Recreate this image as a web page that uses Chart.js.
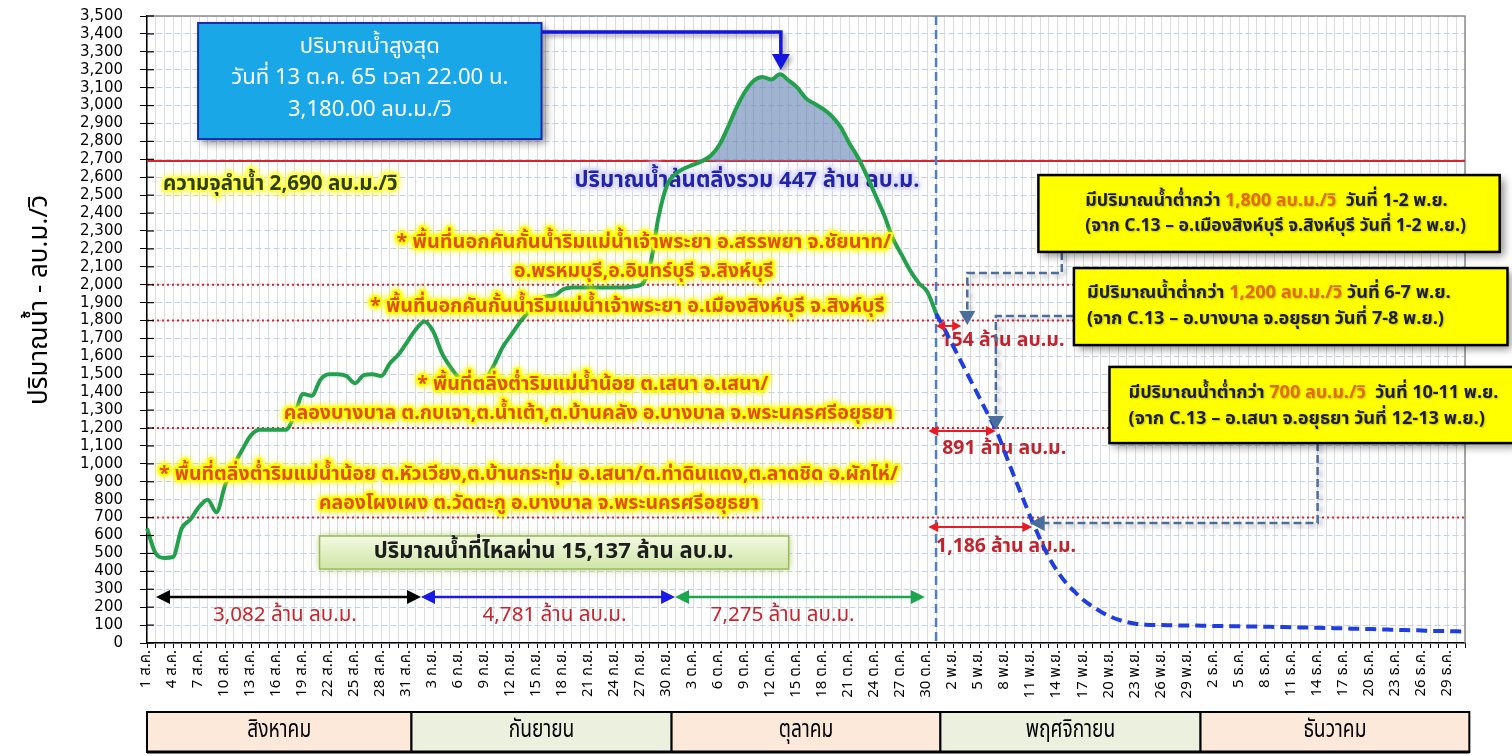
<!DOCTYPE html>
<html>
<head>
<meta charset="utf-8">
<script src="https://cdn.jsdelivr.net/npm/chart.js@4.4.0/dist/chart.umd.min.js"></script>
<style>
  html, body { margin: 0; padding: 0; background: #fff; }
</style>
</head>
<body>
<canvas id="myChart" width="1512" height="756"></canvas>
<script>
const FONT_TH = "'Noto Sans Thai','Noto Sans Thai UI','Leelawadee UI',Tahoma,'Noto Sans',sans-serif";

// categories
const monthNames = ["สิงหาคม", "กันยายน", "ตุลาคม", "พฤศจิกายน", "ธันวาคม"];
const monthAbbr = ["ส.ค.", "ก.ย.", "ต.ค.", "พ.ย.", "ธ.ค."];
const monthDays = [31, 30, 31, 30, 31];

// observed flow 1 Aug - 31 Oct (m3/s)
const observed = [
  640, 500, 475, 480, 640, 690, 760, 800, 730, 880,
  990, 1080, 1160, 1190, 1190, 1190, 1190, 1270, 1390, 1380,
  1470, 1500, 1500, 1490, 1450, 1495, 1500, 1490, 1560, 1610,
  1680, 1750, 1795, 1740, 1620, 1540, 1480, 1460, 1455, 1470,
  1550, 1650, 1720, 1790, 1850, 1910, 1935, 1940, 1975, 1985,
  1985, 1985, 1985, 1985, 1985, 1985, 1990, 2000, 2100, 2380,
  2560, 2620, 2650, 2670, 2690, 2720, 2780, 2880, 2990, 3080,
  3140, 3160, 3145, 3175, 3140, 3100, 3040, 3010, 2980, 2940,
  2880, 2790, 2710, 2610, 2500, 2390, 2260, 2170, 2080, 2010,
  1960, 1840
];

// forecast 31 Oct - 31 Dec (m3/s)
const forecast = [
  1840, 1750, 1655, 1560, 1465, 1370, 1275, 1180, 1055, 930,
  810, 690, 580, 480, 400, 335, 285, 240, 205, 175,
  150, 130, 117, 108, 103, 100, 100, 99, 98, 97,
  97, 96, 95, 95, 94, 93, 92, 92, 91, 90,
  89, 88, 87, 86, 85, 84, 83, 82, 80, 79,
  78, 77, 75, 74, 72, 71, 70, 68, 67, 66,
  65, 64
];

const capacity = 2690;
const alertLevels = [700, 1200, 1800, 2000];
const volumeLabels = ["3,082 ล้าน ลบ.ม.", "4,781 ล้าน ลบ.ม.", "7,275 ล้าน ลบ.ม."];
const deficitLabels = ["154 ล้าน ลบ.ม.", "891 ล้าน ลบ.ม.", "1,186 ล้าน ลบ.ม."];

const dayLabels = [];
monthAbbr.forEach((m, mi) => {
  for (let d = 1; d <= monthDays[mi]; d++) dayLabels.push(d + " " + m);
});

const forecastStart = observed.length - 1;
const forecastSeries = Array(forecastStart).fill(null).concat(forecast);
const overflowSeries = observed.map((v, i) => {
  const near = [observed[i - 1], v, observed[i + 1]].some(u => u > capacity);
  return near ? Math.max(v, capacity) : null;
});

function setFont(ctx, text, weight, size, width) {
  ctx.font = weight + " " + size + "px " + FONT_TH;
  if (!width) return;
  const w = ctx.measureText(text).width;
  const s = Math.max(10, Math.min(size * 1.3, size * width / w));
  ctx.font = weight + " " + s.toFixed(1) + "px " + FONT_TH;
}

function glowText(ctx, text, x, y, o) {
  ctx.save();
  setFont(ctx, text, o.weight || "bold", o.size, o.width);
  ctx.textAlign = o.align || "center";
  ctx.textBaseline = "middle";
  if (o.glow) {
    ctx.shadowColor = o.glow;
    ctx.shadowBlur = 6;
    ctx.strokeStyle = o.glow;
    ctx.lineWidth = 4;
    ctx.lineJoin = "round";
    ctx.strokeText(text, x, y);
    ctx.strokeText(text, x, y);
    ctx.shadowBlur = 0;
  }
  ctx.fillStyle = o.color;
  ctx.fillText(text, x, y);
  ctx.restore();
}

function richLine(ctx, segs, x, y, size, width) {
  ctx.save();
  setFont(ctx, segs.map(s => s[0]).join(""), "bold", size, width);
  ctx.textAlign = "left";
  ctx.textBaseline = "middle";
  ctx.shadowColor = "rgba(0,0,0,0.25)";
  ctx.shadowBlur = 2;
  ctx.shadowOffsetX = 1;
  ctx.shadowOffsetY = 1;
  let cx = x;
  segs.forEach(([t, c]) => {
    ctx.fillStyle = c;
    ctx.fillText(t, cx, y);
    cx += ctx.measureText(t).width;
  });
  ctx.restore();
}

function head(ctx, x, y, dir, len, half, color) {
  ctx.fillStyle = color;
  ctx.beginPath();
  if (dir === "left") { ctx.moveTo(x, y); ctx.lineTo(x + len, y - half); ctx.lineTo(x + len, y + half); }
  if (dir === "right") { ctx.moveTo(x, y); ctx.lineTo(x - len, y - half); ctx.lineTo(x - len, y + half); }
  if (dir === "down") { ctx.moveTo(x, y); ctx.lineTo(x - half, y - len); ctx.lineTo(x + half, y - len); }
  ctx.closePath();
  ctx.fill();
}

function dblArrow(ctx, x1, x2, y, color, lw, len, half) {
  ctx.save();
  ctx.strokeStyle = color;
  ctx.lineWidth = lw;
  ctx.beginPath();
  ctx.moveTo(x1 + len - 1, y);
  ctx.lineTo(x2 - len + 1, y);
  ctx.stroke();
  head(ctx, x1, y, "left", len, half, color);
  head(ctx, x2, y, "right", len, half, color);
  ctx.restore();
}

function shadowBox(ctx, x1, y1, x2, y2, fill, stroke, lw) {
  ctx.save();
  ctx.shadowColor = "rgba(0,0,0,0.45)";
  ctx.shadowBlur = 8;
  ctx.shadowOffsetX = 4;
  ctx.shadowOffsetY = 4;
  ctx.fillStyle = fill;
  ctx.fillRect(x1, y1, x2 - x1, y2 - y1);
  ctx.restore();
  ctx.save();
  ctx.strokeStyle = stroke;
  ctx.lineWidth = lw;
  ctx.strokeRect(x1, y1, x2 - x1, y2 - y1);
  ctx.restore();
}

function dashPath(ctx, pts, color) {
  ctx.save();
  ctx.strokeStyle = color;
  ctx.lineWidth = 2.5;
  ctx.setLineDash([8, 4]);
  ctx.shadowColor = "rgba(0,0,0,0.3)";
  ctx.shadowBlur = 4;
  ctx.shadowOffsetX = 3;
  ctx.shadowOffsetY = 3;
  ctx.beginPath();
  pts.forEach((p, i) => i ? ctx.lineTo(p[0], p[1]) : ctx.moveTo(p[0], p[1]));
  ctx.stroke();
  ctx.restore();
}

const overlay = {
  id: "overlay",
  beforeDraw(chart) {
    const ctx = chart.ctx;
    ctx.save();
    ctx.fillStyle = "#fff";
    ctx.fillRect(0, 0, chart.width, chart.height);
    ctx.restore();
  },
  beforeDatasetsDraw(chart) {
    const { ctx, chartArea: a, scales: { x, y } } = chart;
    const X = i => x.getPixelForValue(i);
    const Y = v => y.getPixelForValue(v);
    ctx.save();
    ctx.strokeStyle = "#8c8c8c";
    ctx.lineWidth = 1.5;
    ctx.beginPath();
    ctx.moveTo(a.left, a.top);
    ctx.lineTo(a.right, a.top);
    ctx.lineTo(a.right, a.bottom);
    ctx.stroke();

    ctx.strokeStyle = "#e0202a";
    ctx.lineWidth = 2;
    ctx.setLineDash([2, 3]);
    alertLevels.forEach(v => {
      ctx.beginPath();
      ctx.moveTo(a.left, Y(v));
      ctx.lineTo(a.right, Y(v));
      ctx.stroke();
    });
    ctx.setLineDash([]);
    ctx.beginPath();
    ctx.moveTo(a.left, Y(capacity));
    ctx.lineTo(a.right, Y(capacity));
    ctx.stroke();

    ctx.strokeStyle = "#4f7fbf";
    ctx.lineWidth = 2.5;
    ctx.setLineDash([9, 5]);
    ctx.beginPath();
    ctx.moveTo(X(forecastStart), a.top);
    ctx.lineTo(X(forecastStart), a.bottom);
    ctx.stroke();
    ctx.restore();

    // labels that sit under the lines
    glowText(ctx, "ปริมาณน้ำล้นตลิ่งรวม 447 ล้าน ลบ.ม.", X(69.2), Y(2568),
      { color: "#2323a8", glow: "rgba(220,220,255,0.9)", size: 17, width: 345 });
    const red = "#c0242c";
    glowText(ctx, deficitLabels[0], X(91.5), Y(1680), { color: red, size: 15, width: 125, align: "left" });
    glowText(ctx, deficitLabels[1], X(91.7), Y(1077), { color: red, size: 15, width: 128, align: "left" });
    glowText(ctx, deficitLabels[2], X(91.0), Y(530), { color: red, size: 15, width: 140, align: "left" });
  },
  afterDatasetsDraw(chart) {
    const { ctx, chartArea: a, scales: { x, y } } = chart;
    const X = i => x.getPixelForValue(i);
    const Y = v => y.getPixelForValue(v);

    // y axis tick marks inside
    ctx.save();
    ctx.strokeStyle = "#000";
    ctx.lineWidth = 1.2;
    y.ticks.forEach(t => {
      const yy = Y(t.value);
      ctx.beginPath();
      ctx.moveTo(a.left, yy);
      ctx.lineTo(a.left + 7, yy);
      ctx.stroke();
    });
    ctx.restore();

    // y title
    ctx.save();
    ctx.translate(42, 300);
    ctx.rotate(-Math.PI / 2);
    setFont(ctx, "ปริมาณน้ำ - ลบ.ม./วิ", "normal", 20, 220);
    ctx.fillStyle = "#000";
    ctx.textAlign = "center";
    ctx.textBaseline = "middle";
    ctx.fillText("ปริมาณน้ำ - ลบ.ม./วิ", 0, 0);
    ctx.restore();

    // capacity label
    glowText(ctx, "ความจุลำน้ำ 2,690 ลบ.ม./วิ", X(1.85), Y(2551),
      { color: "#2e3f08", glow: "rgba(255,255,80,0.9)", size: 16, width: 235, align: "left" });

    // affected areas
    const orange = "#e2500f";
    const yel = "rgba(255,255,0,0.85)";
    [
      ["* พื้นที่นอกคันกั้นน้ำริมแม่น้ำเจ้าพระยา อ.สรรพยา จ.ชัยนาท/", 57.3, 2227, 495],
      ["อ.พรหมบุรี,อ.อินทร์บุรี จ.สิงห์บุรี", 57.3, 2065, 260],
      ["* พื้นที่นอกคันกั้นน้ำริมแม่น้ำเจ้าพระยา อ.เมืองสิงห์บุรี จ.สิงห์บุรี", 55.4, 1870, 514],
      ["* พื้นที่ตลิ่งต่ำริมแม่น้ำน้อย ต.เสนา อ.เสนา/", 51.4, 1435, 352],
      ["คลองบางบาล ต.กบเจา,ต.น้ำเต้า,ต.บ้านคลัง อ.บางบาล จ.พระนครศรีอยุธยา", 50.9, 1273, 609],
      ["* พื้นที่ตลิ่งต่ำริมแม่น้ำน้อย ต.หัวเวียง,ต.บ้านกระทุ่ม อ.เสนา/ต.ท่าดินแดง,ต.ลาดชิด อ.ผักไห่/", 44.0, 932, 740],
      ["คลองโผงเผง ต.วัดตะกู อ.บางบาล จ.พระนครศรีอยุธยา", 45.2, 770, 440]
    ].forEach(([t, i, v, w]) => glowText(ctx, t, X(i), Y(v), { color: orange, glow: yel, size: 16, width: w }));

    // total volume box
    ctx.save();
    const gx1 = X(19.9), gx2 = X(74.0), gy1 = Y(597), gy2 = Y(413);
    const grad = ctx.createLinearGradient(0, gy1, 0, gy2);
    grad.addColorStop(0, "#f3fae3");
    grad.addColorStop(1, "#cfe5a6");
    ctx.shadowColor = "rgba(155,187,89,0.8)";
    ctx.shadowBlur = 8;
    ctx.fillStyle = grad;
    ctx.fillRect(gx1, gy1, gx2 - gx1, gy2 - gy1);
    ctx.shadowBlur = 0;
    ctx.strokeStyle = "#9bbb59";
    ctx.lineWidth = 1.5;
    ctx.strokeRect(gx1, gy1, gx2 - gx1, gy2 - gy1);
    ctx.restore();
    glowText(ctx, "ปริมาณน้ำที่ไหลผ่าน 15,137 ล้าน ลบ.ม.", X(46.9), Y(502), { color: "#1d1d1d", size: 17, width: 365 });

    // monthly volume arrows
    const yA = Y(257);
    dblArrow(ctx, X(1.04), X(31.6), yA, "#000", 2.5, 14, 7);
    dblArrow(ctx, X(31.6), X(60.9), yA, "#1a1ae6", 2.5, 14, 7);
    dblArrow(ctx, X(60.9), X(89.7), yA, "#1aa64e", 2.5, 14, 7);
    [[15.9, 0], [47.0, 1], [73.3, 2]].forEach(([i, k]) =>
      glowText(ctx, volumeLabels[k], X(i), Y(145), { color: "#c8262e", weight: "normal", size: 16, width: 144 }));

    // peak box
    shadowBox(ctx, X(5.89), Y(3461), X(45.5), Y(2813), "#19a7e8", "#1a2bb0", 2);
    glowText(ctx, "ปริมาณน้ำสูงสุด", X(25.7), Y(3321), { color: "#fff", weight: "normal", size: 17, width: 142 });
    glowText(ctx, "วันที่ 13 ต.ค. 65 เวลา 22.00 น.", X(25.7), Y(3143), { color: "#fff", weight: "normal", size: 17, width: 289 });
    glowText(ctx, "3,180.00 ลบ.ม./วิ", X(25.7), Y(2964), { color: "#fff", weight: "normal", size: 17, width: 167 });
    ctx.save();
    ctx.strokeStyle = "#1414e0";
    ctx.lineWidth = 3.5;
    ctx.shadowColor = "rgba(0,0,0,0.35)";
    ctx.shadowBlur = 4;
    ctx.shadowOffsetX = 3;
    ctx.shadowOffsetY = 3;
    ctx.beginPath();
    ctx.moveTo(X(45.5), Y(3411));
    ctx.lineTo(X(73.1), Y(3411));
    ctx.lineTo(X(73.1), Y(3282));
    ctx.stroke();
    head(ctx, X(73.1), Y(3199), "down", 16, 9, "#1414e0");
    ctx.restore();

    // dashed connectors
    const steel = "#4a6d9c";
    dashPath(ctx, [[X(105.5), Y(2183)], [X(105.5), Y(2065)], [X(94.6), Y(2065)], [X(94.6), Y(1775) - 13]], steel);
    head(ctx, X(94.6), Y(1775), "down", 14, 8, steel);
    dashPath(ctx, [[X(106.9), Y(1825)], [X(97.9), Y(1825)], [X(97.9), Y(1189) - 13]], steel);
    head(ctx, X(97.9), Y(1189), "down", 14, 8, steel);
    dashPath(ctx, [[X(135.0), Y(1116)], [X(135.0), Y(670)], [X(101.8) + 14, Y(670)]], steel);
    head(ctx, X(101.8), Y(670), "left", 15, 8, steel);

    // deficit arrows
    dblArrow(ctx, X(91.0), X(93.9), Y(1770), "#e81c24", 2, 9, 5);
    dblArrow(ctx, X(90.1), X(97.9), Y(1183), "#e81c24", 2, 10, 5);
    dblArrow(ctx, X(90.1), X(102.1), Y(648), "#e81c24", 2, 10, 5);

    // yellow boxes
    const dark = "#1c1c3c", or2 = "#e36c09";
    shadowBox(ctx, X(102.8), Y(2612), X(156.0), Y(2183), "#ffff00", "#000", 2.5);
    richLine(ctx, [["มีปริมาณน้ำต่ำกว่า ", dark], ["1,800 ลบ.ม./วิ", or2], ["  วันที่ 1-2 พ.ย.", dark]], X(108.2), Y(2462), 14, 362);
    richLine(ctx, [["(จาก C.13 – อ.เมืองสิงห์บุรี จ.สิงห์บุรี วันที่ 1-2 พ.ย.)", dark]], X(108.2), Y(2317), 14, 381);
    shadowBox(ctx, X(106.9), Y(2093), X(156.9), Y(1663), "#ffff00", "#000", 2.5);
    richLine(ctx, [["มีปริมาณน้ำต่ำกว่า ", dark], ["1,200 ลบ.ม./วิ", or2], [" วันที่ 6-7 พ.ย.", dark]], X(108.4), Y(1948), 14, 366);
    richLine(ctx, [["(จาก C.13 – อ.บางบาล จ.อยุธยา วันที่ 7-8 พ.ย.)", dark]], X(108.4), Y(1803), 14, 358);
    shadowBox(ctx, X(111.0), Y(1541), X(157.6), Y(1116), "#ffff00", "#000", 2.5);
    richLine(ctx, [["มีปริมาณน้ำต่ำกว่า ", dark], ["700 ลบ.ม./วิ", or2], ["  วันที่ 10-11 พ.ย.", dark]], X(113.2), Y(1390), 14, 370);
    richLine(ctx, [["(จาก C.13 – อ.เสนา จ.อยุธยา วันที่ 12-13 พ.ย.)", dark]], X(113.2), Y(1245), 14, 357);

    // month band
    let start = 0;
    const bTop = a.bottom + 69, bH = 40;
    monthDays.forEach((n, mi) => {
      const x1 = Math.max(a.left, X(start - 0.5));
      const x2 = X(start + n - 0.5);
      ctx.save();
      ctx.fillStyle = mi % 2 ? "#ebf1de" : "#fde9d9";
      ctx.fillRect(x1, bTop, x2 - x1, bH);
      ctx.strokeStyle = "#000";
      ctx.lineWidth = 2;
      ctx.strokeRect(x1, bTop, x2 - x1, bH);
      ctx.lineWidth = 3;
      ctx.beginPath();
      ctx.moveTo(x1, bTop + bH);
      ctx.lineTo(x2, bTop + bH);
      ctx.stroke();
      ctx.fillStyle = "#000";
      ctx.font = "normal 24px " + FONT_TH;
      ctx.textAlign = "center";
      ctx.textBaseline = "middle";
      ctx.translate((x1 + x2) / 2, bTop + bH / 2);
      ctx.scale(0.8, 1);
      ctx.fillText(monthNames[mi], 0, 0);
      ctx.restore();
      start += n;
    });
  }
};

const ctx = document.getElementById("myChart").getContext("2d");
const chart = new Chart(ctx, {
  type: "line",
  data: {
    labels: dayLabels,
    datasets: [
      {
        label: "ปริมาณน้ำ",
        data: observed,
        borderColor: "#22a04b",
        borderWidth: 4,
        pointRadius: 0,
        cubicInterpolationMode: "monotone",
        fill: false,
        order: 1
      },
      {
        label: "คาดการณ์",
        data: forecastSeries,
        borderColor: "#1f3ee0",
        borderWidth: 4,
        borderDash: [11, 6],
        pointRadius: 0,
        cubicInterpolationMode: "monotone",
        fill: false,
        order: 2
      },
      {
        label: "ล้นตลิ่ง",
        data: overflowSeries,
        borderColor: "transparent",
        borderWidth: 0,
        backgroundColor: "rgba(96,128,178,0.6)",
        pointRadius: 0,
        cubicInterpolationMode: "monotone",
        fill: { value: capacity },
        order: 3
      }
    ]
  },
  options: {
    responsive: false,
    animation: false,
    devicePixelRatio: 1,
    layout: { padding: { top: 16, right: 47, bottom: 58, left: 0 } },
    plugins: { legend: { display: false }, tooltip: { enabled: false } },
    scales: {
      x: {
        grid: { color: "#dcdcdc", lineWidth: 1, tickColor: "#000", tickLength: 5 },
        border: { color: "#000", width: 1.5 },
        ticks: {
          autoSkip: false,
          maxRotation: 90,
          minRotation: 90,
          padding: 2,
          color: "#000",
          font: { size: 15, family: FONT_TH },
          callback: (v, i) => (i % 3 === 0 ? dayLabels[i] : "")
        },
        afterFit: s => { s.height = 55; s.paddingLeft = 0; s.paddingRight = 0; }
      },
      y: {
        min: 0,
        max: 3500,
        ticks: {
          stepSize: 100,
          autoSkip: false,
          color: "#000",
          padding: 17,
          font: { size: 15, family: "'DejaVu Sans', Verdana, sans-serif" },
          callback: v => v.toLocaleString("en-US")
        },
        grid: { color: "#c3d2e8", lineWidth: 1, tickColor: "#000", tickLength: 7 },
        border: { color: "#000", width: 1.5, dash: [6, 3] },
        afterFit: s => { s.width = 147; s.paddingTop = 0; s.paddingBottom = 0; }
      }
    }
  },
  plugins: [overlay]
});
</script>
</body>
</html>
